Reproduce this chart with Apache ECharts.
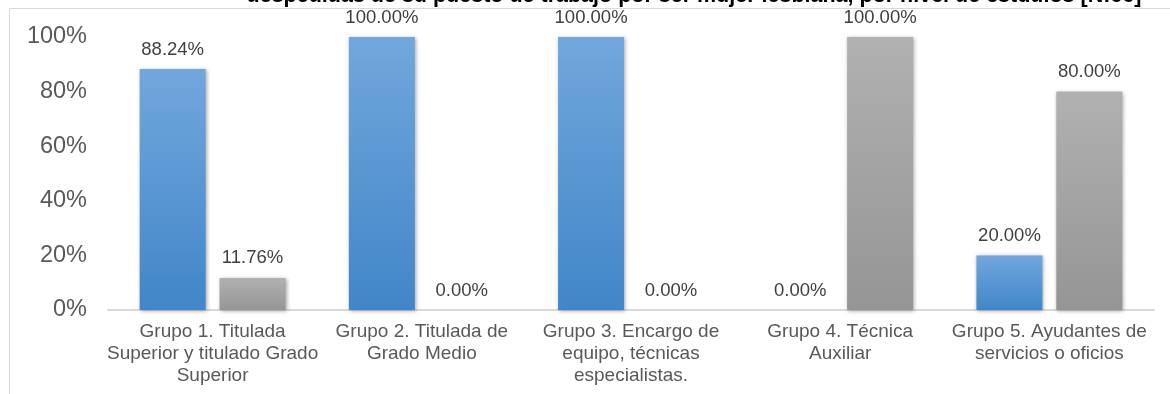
<!DOCTYPE html>
<html>
<head>
<meta charset="utf-8">
<script src="https://cdn.jsdelivr.net/npm/echarts@6/dist/echarts.min.js"></script>
<style>
html,body{margin:0;padding:0;background:#fff;}
#c{width:1170px;height:394px;}
</style>
</head>
<body>
<div id="c"></div>
<script>
const titleText = 'despedidas de su puesto de trabajo por ser mujer lesbiana, por nivel de estudios [N:66]';
const categories = [
  'Grupo 1. Titulada\nSuperior y titulado Grado\nSuperior',
  'Grupo 2. Titulada de\nGrado Medio',
  'Grupo 3. Encargo de\nequipo, técnicas\nespecialistas.',
  'Grupo 4. Técnica\nAuxiliar',
  'Grupo 5. Ayudantes de\nservicios o oficios'
];
const seriesSi = [88.24, 100, 100, 0, 20];
const seriesNo = [11.76, 0, 0, 100, 80];
const yTicks = [0, 20, 40, 60, 80, 100];

const FONT = '"Liberation Sans", Arial, sans-serif';
const chart = echarts.init(document.getElementById('c'), null, {renderer: 'canvas'});

function grad(top, bottom) {
  return new echarts.graphic.LinearGradient(0, 0, 0, 1, [
    {offset: 0, color: top}, {offset: 1, color: bottom}
  ]);
}

const labelCfg = {
  show: true,
  position: 'top',
  distance: 10,
  color: '#404040',
  fontSize: 18.5,
  fontFamily: FONT,
  formatter: p => p.value.toFixed(2) + '%'
};

chart.setOption({
  animation: false,
  graphic: [
    {
      type: 'rect',
      shape: {x: 9.5, y: 8.5, width: 1300, height: 500},
      style: {fill: 'none', stroke: '#d9d9d9', lineWidth: 1},
      silent: true, z: -1
    },
    {
      type: 'text',
      x: 694, y: -4,
      style: {
        text: titleText,
        fontFamily: FONT,
        fontSize: 21.5,
        fontWeight: 'bold',
        fill: '#000',
        align: 'center',
        verticalAlign: 'middle'
      },
      silent: true
    }
  ],
  grid: {left: 108, right: 16, top: 37, bottom: 84, containLabel: false},
  xAxis: {
    type: 'category',
    data: categories,
    axisLine: {show: true, lineStyle: {color: '#d9d9d9', width: 2}},
    axisTick: {show: false},
    axisLabel: {
      color: '#595959', fontSize: 19, fontFamily: FONT,
      lineHeight: 22, margin: 11, interval: 0, align: 'center'
    }
  },
  yAxis: {
    type: 'value',
    min: yTicks[0], max: yTicks[yTicks.length - 1], interval: yTicks[1] - yTicks[0],
    axisLine: {show: false},
    axisTick: {show: false},
    splitLine: {show: false},
    axisLabel: {
      color: '#595959', fontSize: 23.5, fontFamily: FONT, margin: 21,
      formatter: '{value}%'
    }
  },
  series: [
    {
      type: 'bar',
      data: seriesSi,
      barWidth: 66,
      barGap: '21%',
      itemStyle: {
        color: grad('#71a7dc', '#4186c8'),
        shadowColor: 'rgba(0,0,0,0.35)', shadowBlur: 4, shadowOffsetX: 1, shadowOffsetY: 1
      },
      label: labelCfg
    },
    {
      type: 'bar',
      data: seriesNo,
      barWidth: 66,
      itemStyle: {
        color: grad('#b1b1b1', '#959595'),
        shadowColor: 'rgba(0,0,0,0.35)', shadowBlur: 4, shadowOffsetX: 1, shadowOffsetY: 1
      },
      label: labelCfg
    }
  ]
});
</script>
</body>
</html>
